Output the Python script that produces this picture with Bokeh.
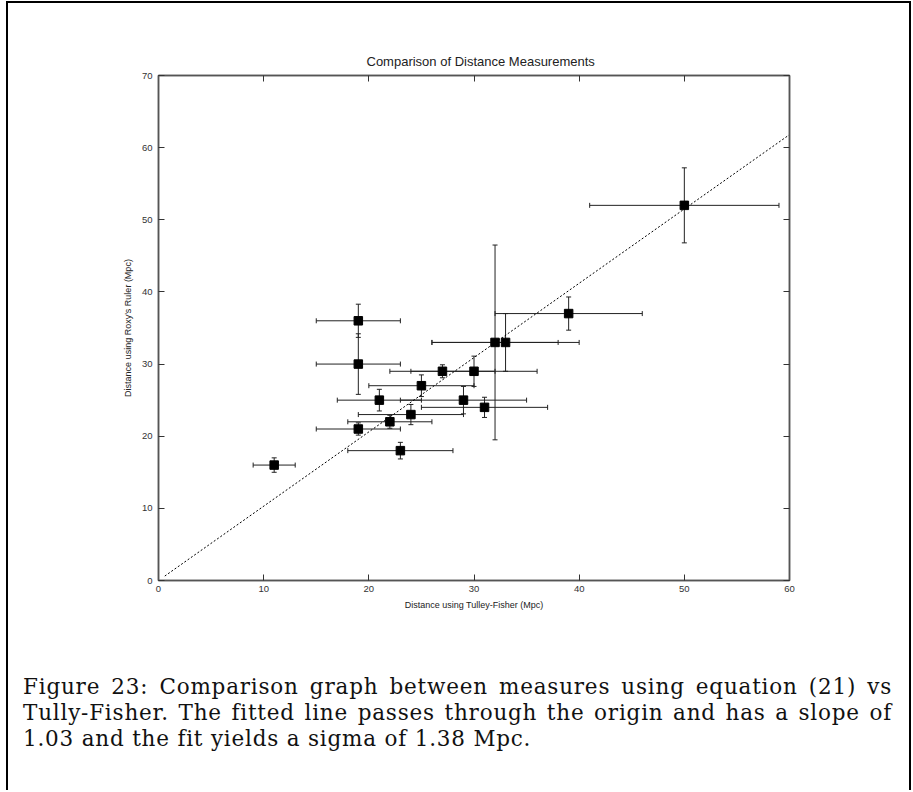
from bokeh.plotting import figure
from bokeh.models import ColumnDataSource, Whisker, TeeHead, LinearAxis, Div, Range1d, FixedTicker
from bokeh.layouts import column
from bokeh.embed import file_html
from bokeh.resources import INLINE

# Data
tf_dist = [11, 19, 22, 24, 23, 31, 21, 29, 25, 27, 30, 19, 19, 32, 33, 39, 50]
roxy_dist = [16, 21, 22, 23, 18, 24, 25, 25, 27, 29, 29, 30, 36, 33, 33, 37, 52]
tf_err = [2, 4, 4, 5, 5, 6, 4, 6, 5, 5, 6, 4, 4, 6, 7, 7, 9]
roxy_err = [1.0, 0.85, 0.9, 1.4, 1.15, 1.4, 1.5, 1.9, 1.5, 0.9, 2.1, 4.2, 2.3, 13.5, 4.0, 2.3, 5.2]
fit_slope = 1.03
fit_x = [0.6, 60]
x_ticks = [0, 10, 20, 30, 40, 50, 60]
y_ticks = [0, 10, 20, 30, 40, 50, 60, 70]

title_text = "Comparison of Distance Measurements"
x_label = "Distance using Tulley-Fisher (Mpc)"
y_label = "Distance using Roxy's Ruler (Mpc)"
caption_lines = [
    "Figure 23: Comparison graph between measures using equation (21) vs",
    "Tully-Fisher. The fitted line passes through the origin and has a slope of",
    "1.03 and the fit yields a sigma of 1.38 Mpc.",
]

src = ColumnDataSource(dict(
    x=tf_dist, y=roxy_dist,
    xlo=[a - e for a, e in zip(tf_dist, tf_err)],
    xhi=[a + e for a, e in zip(tf_dist, tf_err)],
    ylo=[a - e for a, e in zip(roxy_dist, roxy_err)],
    yhi=[a + e for a, e in zip(roxy_dist, roxy_err)],
))

FONT = "Liberation Sans"
AX = "#555555"

p = figure(width=901, height=627, x_range=Range1d(0, 60), y_range=Range1d(0, 70),
           output_backend="svg", toolbar_location=None,
           min_border_left=150, min_border_right=120, min_border_top=72, min_border_bottom=50)
p.title.text = title_text
p.title.align = "left"
p.title.text_font = FONT
p.title.text_font_size = "13px"
p.title.text_font_style = "normal"
p.title.text_color = "#222222"
p.title.offset = 208
p.title.standoff = 14

p.grid.visible = False
p.outline_line_color = AX
p.outline_line_width = 1.5
p.background_fill_color = "white"
p.border_fill_color = "white"

p.xaxis.ticker = FixedTicker(ticks=x_ticks)
p.yaxis.ticker = FixedTicker(ticks=y_ticks)
p.xaxis.axis_label = x_label
p.yaxis.axis_label = y_label
for ax in (p.xaxis[0], p.yaxis[0]):
    ax.axis_line_color = AX
    ax.axis_line_width = 1.5
    ax.major_tick_in = 6
    ax.major_tick_out = 0
    ax.major_tick_line_color = "#333333"
    ax.minor_tick_line_color = None
    ax.major_label_text_font = FONT
    ax.major_label_text_font_size = "9.5px"
    ax.major_label_text_color = "#333333"
    ax.axis_label_text_font = FONT
    ax.axis_label_text_font_size = "9px"
    ax.axis_label_text_font_style = "normal"
    ax.axis_label_text_color = "#222222"
p.xaxis.major_label_standoff = 5
p.yaxis.major_label_standoff = 6
p.xaxis.axis_label_standoff = 5
p.yaxis.axis_label_standoff = 6

for side, ticks in (("above", x_ticks), ("right", y_ticks)):
    ax = LinearAxis(ticker=FixedTicker(ticks=ticks))
    ax.axis_line_color = AX
    ax.axis_line_width = 1.5
    ax.major_tick_in = 6
    ax.major_tick_out = 0
    ax.major_tick_line_color = "#333333"
    ax.minor_tick_line_color = None
    ax.major_label_text_font_size = "4px"
    ax.major_label_text_color = None
    ax.major_label_standoff = 0
    p.add_layout(ax, side)

p.line(fit_x, [fit_slope * v for v in fit_x], line_color="black", line_width=1, line_dash="2 2")

head = dict(size=5, line_color="#222222", line_width=1)
wh = Whisker(source=src, base="y", lower="xlo", upper="xhi", dimension="width",
             line_color="#222222", line_width=1,
             lower_head=TeeHead(**head), upper_head=TeeHead(**head))
wv = Whisker(source=src, base="x", lower="ylo", upper="yhi", dimension="height",
             line_color="#222222", line_width=1,
             lower_head=TeeHead(**head), upper_head=TeeHead(**head))
p.add_layout(wh)
p.add_layout(wv)
p.scatter("x", "y", source=src, marker="square", size=8.5, color="black")

just = "text-align:justify;text-align-last:justify;"
html = ('<div style="font-family:\'DejaVu Serif\';font-size:21.5px;line-height:26px;'
        'letter-spacing:0.8px;color:#111;padding:44px 0 0 15px;width:869px;">'
        f'<div style="{just}width:869px;">{caption_lines[0]}</div>'
        f'<div style="{just}width:869px;">{caption_lines[1]}</div>'
        f'<div style="text-align:left;">{caption_lines[2]}</div>'
        '</div>')
cap = Div(text=html, width=901, height=160, margin=0)

layout = column(p, cap, styles={"border-left": "2px solid black",
                                "border-top": "2px solid black",
                                "border-right": "2px solid black",
                                "margin-left": "6px",
                                "margin-top": "1px",
                                "background-color": "white"})

open("out.html", "w").write(file_html(layout, INLINE))
